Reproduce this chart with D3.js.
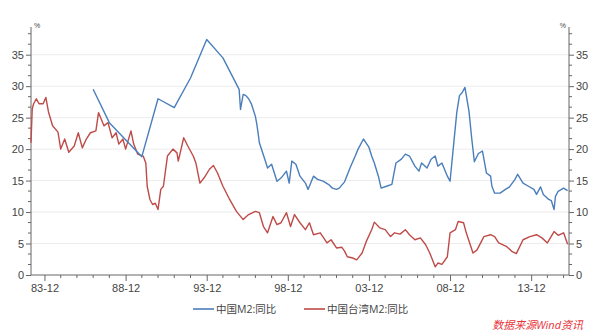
<!DOCTYPE html>
<html><head><meta charset="utf-8">
<script src="https://cdn.jsdelivr.net/npm/d3@7"></script>
<style>
html,body{margin:0;padding:0;background:#fff;}
svg{display:block;font-family:"Open Sans","Noto Sans CJK SC",sans-serif;}
</style></head><body>
<svg id="c" width="600" height="336"></svg>
<script>
// ---- data ----
const redDates = ["1983-02","1983-03","1983-04","1983-06","1983-08","1983-11","1984-01","1984-03","1984-06","1984-10","1984-12",
"1985-03","1985-06","1985-10","1986-01","1986-04","1986-07","1986-10","1987-02","1987-04","1987-08","1987-11",
"1988-02","1988-05","1988-07","1988-10","1988-12","1989-04","1989-06","1989-09","1990-01","1990-03","1990-04","1990-06",
"1990-08","1990-10","1990-12","1991-02","1991-04","1991-07","1991-11","1992-02","1992-03","1992-07","1992-10","1993-02",
"1993-04","1993-07","1993-10","1994-02","1994-05","1994-08","1994-12","1995-05","1995-10","1996-03","1996-07","1996-12",
"1997-03","1997-06","1997-09","1998-01","1998-04","1998-07","1998-11","1999-02","1999-05","1999-09","2000-01","2000-04",
"2000-07","2000-12","2001-05","2001-08","2001-12","2002-04","2002-06","2002-08","2002-12","2003-03","2003-07","2003-10",
"2004-02","2004-04","2004-08","2004-12","2005-04","2005-07","2005-11","2006-03","2006-06","2006-10","2007-02","2007-06",
"2007-09","2008-01","2008-03","2008-06","2008-10","2008-12","2009-04","2009-06","2009-10","2009-12","2010-05","2010-08",
"2011-01","2011-06","2011-09","2011-12","2012-06","2012-10","2013-01","2013-06","2013-11","2014-04","2014-08","2014-12",
"2015-05","2015-08","2015-12","2016-03"];
const redValues = [21.0,26.4,27.2,28.0,27.2,27.2,28.2,25.9,23.7,22.7,20.0,
21.6,19.5,20.5,22.6,20.2,21.6,22.6,22.9,25.8,23.7,24.2,
21.8,22.6,20.8,21.6,20.0,22.9,20.8,19.2,18.9,17.8,14.1,12.0,
11.2,11.4,10.4,13.6,14.1,18.9,20.0,19.4,18.1,21.8,20.5,18.9,
17.8,14.6,15.4,16.8,17.4,16.2,14.1,12.0,10.1,8.8,9.6,10.1,
9.9,7.7,6.7,9.3,8.0,8.3,9.9,7.7,9.6,8.3,7.2,8.3,
6.4,6.7,5.1,5.6,4.3,4.4,3.8,2.9,2.7,2.4,3.5,5.3,
7.2,8.4,7.5,7.2,6.1,6.7,6.5,7.2,6.4,5.6,5.9,4.8,
3.5,1.3,1.9,1.7,2.9,6.7,7.2,8.5,8.3,6.7,3.5,4.0,
6.1,6.4,6.1,5.1,4.5,3.7,3.4,5.6,6.1,6.4,5.9,5.1,
6.9,6.3,6.7,4.9];

const blueDates = ["1986-12","1987-12","1988-12","1989-12","1990-12","1991-12","1992-12","1993-12","1994-12","1995-12",
"1996-01","1996-03","1996-05","1996-07","1996-09","1996-12","1997-01","1997-02","1997-03","1997-07","1997-09","1997-12",
"1998-02","1998-04","1998-07","1998-11","1999-01","1999-03","1999-06","1999-09","2000-01","2000-03","2000-07","2000-10",
"2001-02","2001-06","2001-09","2001-12","2002-02","2002-06","2002-10","2003-02","2003-04","2003-08","2003-12","2004-02",
"2004-04","2004-07","2004-09","2005-01","2005-05","2005-08","2005-12","2006-03","2006-06","2006-10","2007-01","2007-03",
"2007-07","2007-10","2008-01","2008-03","2008-06","2008-10","2008-12","2009-02","2009-05","2009-07","2009-09","2009-11",
"2010-02","2010-04","2010-06","2010-09","2010-12","2011-03","2011-06","2011-07","2011-09","2012-01","2012-05","2012-08",
"2012-12","2013-02","2013-06","2013-10","2014-02","2014-04","2014-07","2014-09","2015-01","2015-03","2015-05","2015-06",
"2015-08","2015-12","2016-03"];
const blueValues = [29.5,24.2,21.5,18.8,28.0,26.6,31.3,37.4,34.5,29.5,
26.3,28.7,28.5,28.0,27.2,25.2,24.0,22.5,21.0,18.4,17.0,17.6,
16.2,14.9,15.4,16.5,14.6,18.1,17.6,15.7,14.6,13.6,15.7,15.2,
14.9,14.4,13.8,13.6,13.8,14.8,17.0,19.0,20.0,21.6,20.3,18.9,
17.8,15.7,13.8,14.1,14.4,17.8,18.4,19.2,18.9,17.3,16.5,17.8,
17.0,18.4,18.9,17.3,17.8,15.7,14.9,19.4,25.8,28.5,29.0,29.8,
26.0,21.8,18.0,19.3,19.7,16.2,15.7,14.1,13.0,13.0,13.6,14.0,
15.2,16.0,14.6,14.1,13.6,12.8,14.0,12.8,12.0,11.8,10.4,12.5,
13.3,13.8,13.4];

const yTicks = [0,5,10,15,20,25,30,35];
const xTickYears = [1983,1988,1993,1998,2003,2008,2013];
const seriesNames = ["中国M2:同比","中国台湾M2:同比"];
const seriesColors = ["#4a7ebb","#be4b48"];
const sourceText = "数据来源Wind资讯";

// ---- chart ----
const parse = d3.timeParse("%Y-%m");
const svg = d3.select("#c");
const L = 31, R = 569, T = 27, B = 275;
const x = d3.scaleTime().domain([parse("1983-02"), parse("2016-04")]).range([L, R]);
const y = d3.scaleLinear().domain([0, 39.4]).range([B, T]);
const axisColor = "#666";
const textColor = "#444";

// gridlines
svg.append("g").selectAll("line").data(yTicks.filter(d=>d>0)).join("line")
  .attr("x1", L).attr("x2", R).attr("y1", d=>y(d)).attr("y2", d=>y(d))
  .attr("stroke", "#ececec").attr("stroke-width", 1);

// minor y ticks values
const minorY = d3.range(0, 39.4, 5/3).filter(v => Math.abs(v/5 - Math.round(v/5)) > 0.01);

function yAxis(g, side) {
  const ax = side === "left" ? d3.axisLeft(y) : d3.axisRight(y);
  g.call(ax.tickValues(yTicks).tickSize(5).tickPadding(2).tickFormat(d3.format("d")));
  g.select(".domain").attr("stroke", axisColor).attr("d", `M0,${B}V${T}`);
  g.selectAll(".tick line").attr("stroke", axisColor);
  g.selectAll(".tick text").attr("fill", textColor).style("font-size", "11px");
  g.selectAll(".minor").data(minorY).join("line").attr("class","minor")
    .attr("x1", 0).attr("x2", side === "left" ? -3 : 3)
    .attr("y1", d=>y(d)).attr("y2", d=>y(d)).attr("stroke", axisColor);
  g.append("text").attr("x", side === "left" ? 3 : -3).attr("y", T+1)
    .attr("text-anchor", side === "left" ? "start" : "end")
    .attr("fill", textColor).style("font-size", "7px").text("%");
}
svg.append("g").attr("transform", `translate(${L},0)`).call(g=>yAxis(g,"left"));
svg.append("g").attr("transform", `translate(${R},0)`).call(g=>yAxis(g,"right"));

// x axis
const xMajor = xTickYears.map(yr => parse(yr + "-12"));
const xMinor = d3.range(1983, 2016).map(yr => parse(yr + "-12")).filter(d => !xTickYears.includes(d.getFullYear()));
const gx = svg.append("g").attr("transform", `translate(0,${B})`);
gx.call(d3.axisBottom(x).tickValues(xMajor).tickSize(6).tickPadding(3).tickFormat(d3.timeFormat("%y-%m")));
gx.select(".domain").attr("stroke", axisColor).attr("d", `M${L},0H${R}`);
gx.selectAll(".tick line").attr("stroke", axisColor);
gx.selectAll(".tick text").attr("fill", textColor).style("font-size", "11px");
gx.selectAll(".minor").data(xMinor).join("line").attr("class","minor")
  .attr("x1", d=>x(d)).attr("x2", d=>x(d)).attr("y1", 0).attr("y2", 3).attr("stroke", axisColor);

// lines
const line = d3.line().x(d=>x(d[0])).y(d=>y(d[1]));
const blue = blueDates.map((d,i)=>[parse(d), blueValues[i]]);
const red = redDates.map((d,i)=>[parse(d), redValues[i]]);
svg.append("path").datum(red).attr("d", line).attr("fill","none")
  .attr("stroke", seriesColors[1]).attr("stroke-width", 1.4).attr("stroke-linejoin","round");
svg.append("path").datum(blue).attr("d", line).attr("fill","none")
  .attr("stroke", seriesColors[0]).attr("stroke-width", 1.4).attr("stroke-linejoin","round");

// legend
const legX = [193, 304];
seriesNames.forEach((n,i)=>{
  const g = svg.append("g").attr("transform", `translate(${legX[i]},309)`);
  g.append("line").attr("x1",0).attr("x2",21).attr("stroke",seriesColors[i]).attr("stroke-width",1.6);
  g.append("text").attr("x",23).attr("y",4).attr("fill",textColor).style("font-size","10.5px").text(n);
});

// source
svg.append("text").attr("x", 583).attr("y", 329).attr("text-anchor","end")
  .attr("fill","#e8333a").style("font-size","11px").style("font-style","italic").text(sourceText);
</script>
</body></html>
